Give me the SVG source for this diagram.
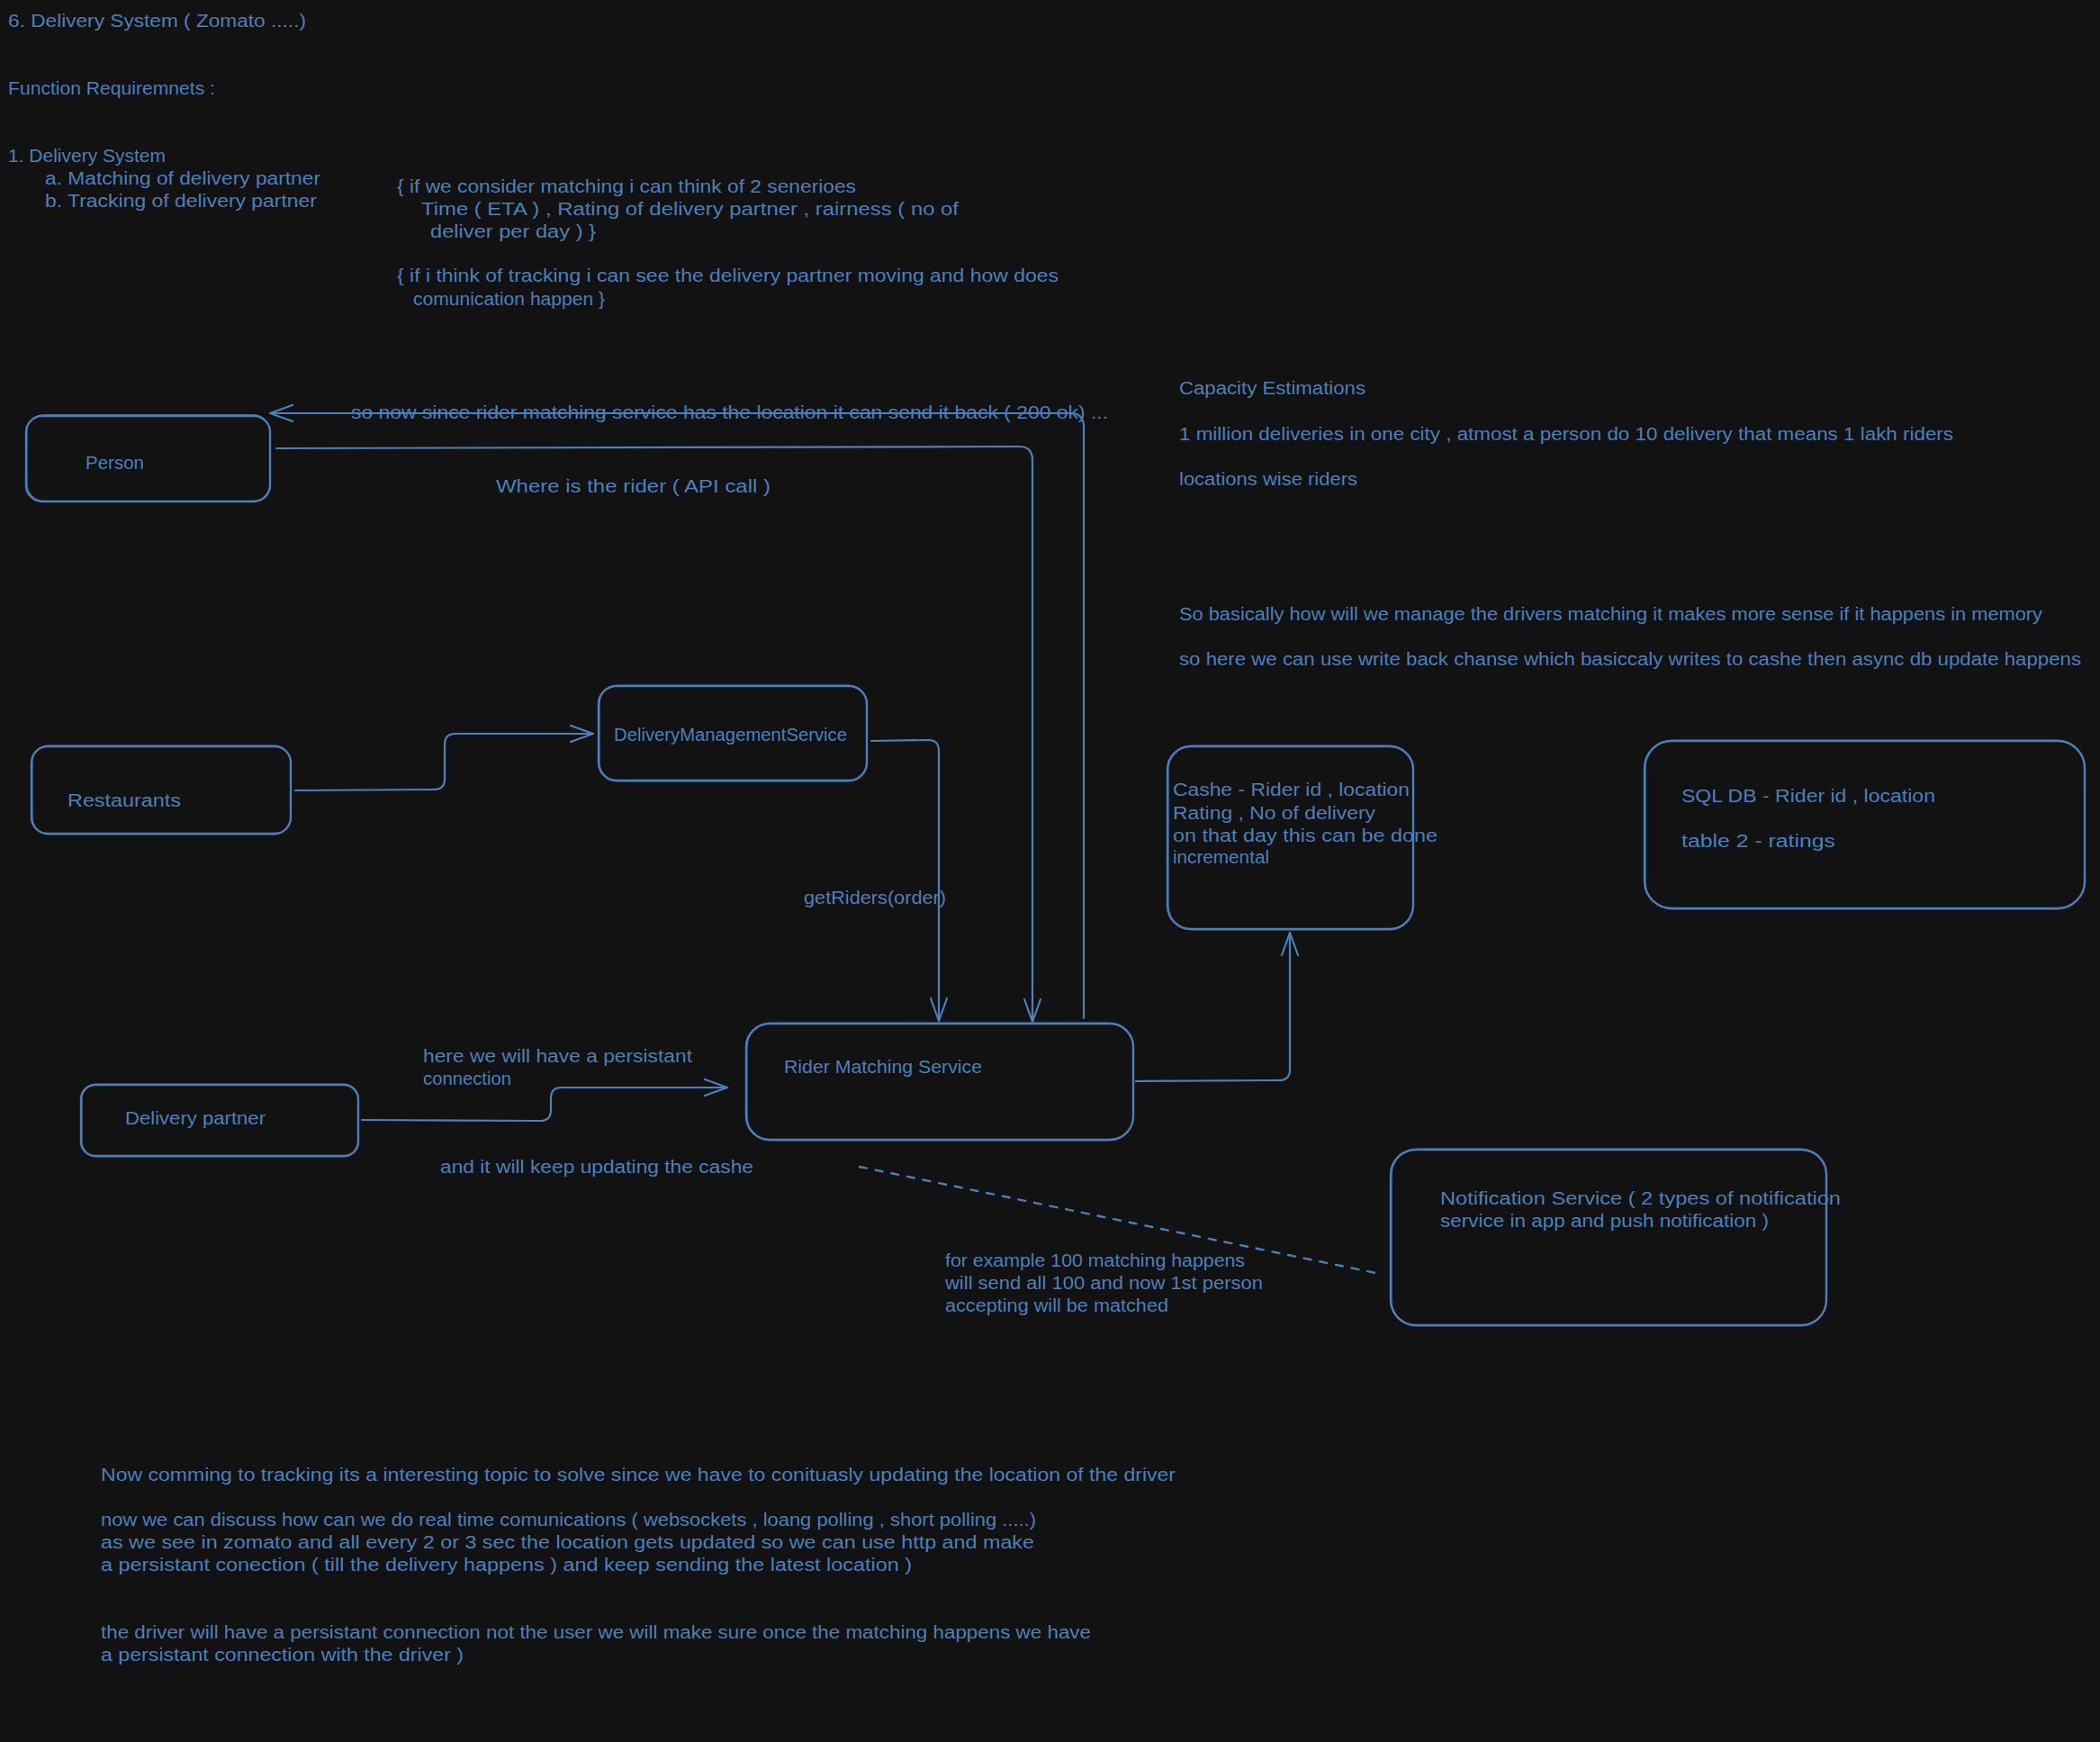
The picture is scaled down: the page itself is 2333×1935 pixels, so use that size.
<svg xmlns="http://www.w3.org/2000/svg" width="2333" height="1935" viewBox="0 0 2333 1935">
  <style>
    .t { fill: #4a80bc; font-family: "Liberation Sans", Arial, sans-serif; font-size: 20px; }
    .box { fill: none; stroke: #4a80bc; stroke-width: 2.4; }
    .box2 { fill: none; stroke: #4a80bc; stroke-width: 1.2; opacity: 0.75; }
    .wire { fill: none; stroke: #4a80bc; stroke-width: 2.2; stroke-linecap: round; stroke-linejoin: round; }
    .dash { fill: none; stroke: #4a80bc; stroke-width: 2.4; stroke-dasharray: 8 10; stroke-linecap: round; }
  </style>
  <defs>
    <marker id="arrow" viewBox="0 0 30 24" refX="28" refY="12" markerWidth="30" markerHeight="24" markerUnits="userSpaceOnUse" orient="auto">
      <path d="M 3 3 L 28 12 L 3 21" fill="none" stroke="#4a80bc" stroke-width="2.2" stroke-linecap="round" stroke-linejoin="round"/>
    </marker>
  </defs>
  <rect width="2333" height="1935" fill="#121212"/>

  <!-- notes: requirements -->
  <g id="notes-requirements">
    <text class="t" x="9" y="30" textLength="331" lengthAdjust="spacingAndGlyphs">6. Delivery System ( Zomato .....)</text>
    <text class="t" x="9" y="105" textLength="230" lengthAdjust="spacingAndGlyphs">Function Requiremnets :</text>
    <text class="t" x="9" y="180" textLength="175" lengthAdjust="spacingAndGlyphs">1. Delivery System</text>
    <text class="t" x="50" y="205" textLength="306" lengthAdjust="spacingAndGlyphs">a. Matching of delivery partner</text>
    <text class="t" x="50" y="230" textLength="302" lengthAdjust="spacingAndGlyphs">b. Tracking of delivery partner</text>
    <text class="t" x="441" y="214" textLength="510" lengthAdjust="spacingAndGlyphs">{ if we consider matching i can think of 2 senerioes</text>
    <text class="t" x="468" y="239" textLength="597" lengthAdjust="spacingAndGlyphs">Time ( ETA ) , Rating of delivery partner , rairness ( no of</text>
    <text class="t" x="478" y="264" textLength="184" lengthAdjust="spacingAndGlyphs">deliver per day ) }</text>
    <text class="t" x="441" y="313" textLength="735" lengthAdjust="spacingAndGlyphs">{ if i think of tracking i can see the delivery partner moving and how does</text>
    <text class="t" x="459" y="339" textLength="213" lengthAdjust="spacingAndGlyphs">comunication happen }</text>
  </g>

  <!-- notes: capacity -->
  <g id="notes-capacity">
    <text class="t" x="1310" y="438" textLength="207" lengthAdjust="spacingAndGlyphs">Capacity Estimations</text>
    <text class="t" x="1310" y="489" textLength="860" lengthAdjust="spacingAndGlyphs">1 million deliveries in one city , atmost a person do 10 delivery that means 1 lakh riders</text>
    <text class="t" x="1310" y="539" textLength="198" lengthAdjust="spacingAndGlyphs">locations wise riders</text>
    <text class="t" x="1310" y="689" textLength="959" lengthAdjust="spacingAndGlyphs">So basically how will we manage the drivers matching it makes more sense if it happens in memory</text>
    <text class="t" x="1310" y="739" textLength="1002" lengthAdjust="spacingAndGlyphs">so here we can use write back chanse which basiccaly writes to cashe then async db update happens</text>
  </g>

  <!-- notes: tracking -->
  <g id="notes-tracking">
    <text class="t" x="112" y="1645" textLength="1194" lengthAdjust="spacingAndGlyphs">Now comming to tracking its a interesting topic to solve since we have to conituasly updating the location of the driver</text>
    <text class="t" x="112" y="1695" textLength="1039" lengthAdjust="spacingAndGlyphs">now we can discuss how can we do real time comunications ( websockets , loang polling , short polling .....)</text>
    <text class="t" x="112" y="1720" textLength="1037" lengthAdjust="spacingAndGlyphs">as we see in zomato and all every 2 or 3 sec the location gets updated so we can use http and make</text>
    <text class="t" x="112" y="1745" textLength="901" lengthAdjust="spacingAndGlyphs">a persistant conection ( till the delivery happens )  and keep sending the latest location )</text>
    <text class="t" x="112" y="1820" textLength="1100" lengthAdjust="spacingAndGlyphs">the driver will have a persistant connection not the user we will make sure once the matching happens we have</text>
    <text class="t" x="112" y="1845" textLength="403" lengthAdjust="spacingAndGlyphs">a persistant connection with the driver )</text>
  </g>

  <!-- connectors -->
  <g id="connectors">
    <path class="wire" d="M 307 498 L 1132 496 Q 1147 496 1147 511 L 1147 1135" marker-end="url(#arrow)"/>
    <path class="wire" d="M 1204 1131 L 1204 474 Q 1204 459 1189 459 L 300 459" marker-end="url(#arrow)"/>
    <path class="wire" d="M 328 878 L 482 877 Q 494 877 494 865 L 494 827 Q 494 815 506 815 L 659 815" marker-end="url(#arrow)"/>
    <path class="wire" d="M 968 823 L 1031 822 Q 1043 822 1043 834 L 1043 1134" marker-end="url(#arrow)"/>
    <path class="wire" d="M 402 1244 L 600 1245 Q 612 1245 612 1233 L 612 1220 Q 612 1208 624 1208 L 808 1208" marker-end="url(#arrow)"/>
    <path class="wire" d="M 1262 1201 L 1421 1200 Q 1433 1200 1433 1188 L 1433 1036" marker-end="url(#arrow)"/>
    <path class="dash" d="M 955 1296 L 1528 1414"/>
    <text class="t" x="390" y="465" textLength="841" lengthAdjust="spacingAndGlyphs">so now since rider matching service has the location it can send it back ( 200 ok) ...</text>
    <text class="t" x="551" y="547" textLength="305" lengthAdjust="spacingAndGlyphs">Where is the rider ( API call )</text>
    <text class="t" x="893" y="1004" textLength="158" lengthAdjust="spacingAndGlyphs">getRiders(order)</text>
    <text class="t" x="470" y="1180" textLength="299" lengthAdjust="spacingAndGlyphs">here we will have a persistant</text>
    <text class="t" x="470" y="1205" textLength="98" lengthAdjust="spacingAndGlyphs">connection</text>
    <text class="t" x="489" y="1303" textLength="348" lengthAdjust="spacingAndGlyphs">and it will keep updating the cashe</text>
    <text class="t" x="1050" y="1407" textLength="333" lengthAdjust="spacingAndGlyphs">for example 100 matching happens</text>
    <text class="t" x="1050" y="1432" textLength="353" lengthAdjust="spacingAndGlyphs">will send all 100 and now 1st person</text>
    <text class="t" x="1050" y="1457" textLength="248" lengthAdjust="spacingAndGlyphs">accepting will be matched</text>
  </g>

  <!-- nodes -->
  <g id="person">
    <rect class="box" x="29" y="462" width="271" height="95" rx="18"/>
    <rect class="box2" x="30" y="460.5" width="270" height="96" rx="19"/>
    <text class="t" x="95" y="521" textLength="65" lengthAdjust="spacingAndGlyphs">Person</text>
  </g>
  <g id="restaurants">
    <rect class="box" x="35" y="829" width="288" height="97" rx="18"/>
    <rect class="box2" x="36" y="828" width="287" height="99" rx="19"/>
    <text class="t" x="75" y="896" textLength="126" lengthAdjust="spacingAndGlyphs">Restaurants</text>
  </g>
  <g id="delivery-management-service">
    <rect class="box" x="665" y="762" width="298" height="105" rx="20"/>
    <rect class="box2" x="666" y="761" width="297" height="107" rx="21"/>
    <text class="t" x="682" y="823" textLength="259" lengthAdjust="spacingAndGlyphs">DeliveryManagementService</text>
  </g>
  <g id="rider-matching-service">
    <rect class="box" x="829" y="1137" width="430" height="129" rx="26"/>
    <rect class="box2" x="830" y="1136" width="429" height="131" rx="27"/>
    <text class="t" x="871" y="1192" textLength="220" lengthAdjust="spacingAndGlyphs">Rider Matching Service</text>
  </g>
  <g id="delivery-partner">
    <rect class="box" x="90" y="1205" width="308" height="79" rx="16"/>
    <rect class="box2" x="91" y="1204" width="307" height="81" rx="17"/>
    <text class="t" x="139" y="1249" textLength="156" lengthAdjust="spacingAndGlyphs">Delivery partner</text>
  </g>
  <g id="cache">
    <rect class="box" x="1297" y="829" width="273" height="203" rx="26"/>
    <rect class="box2" x="1298" y="828" width="272" height="205" rx="27"/>
    <text class="t" x="1303" y="884" textLength="263" lengthAdjust="spacingAndGlyphs">Cashe - Rider id , location</text>
    <text class="t" x="1303" y="910" textLength="225" lengthAdjust="spacingAndGlyphs">Rating , No of delivery</text>
    <text class="t" x="1303" y="935" textLength="294" lengthAdjust="spacingAndGlyphs">on that day this can be done</text>
    <text class="t" x="1303" y="959" textLength="107" lengthAdjust="spacingAndGlyphs">incremental</text>
  </g>
  <g id="sql-db">
    <rect class="box" x="1827" y="823" width="489" height="186" rx="30"/>
    <rect class="box2" x="1828" y="822" width="488" height="188" rx="31"/>
    <text class="t" x="1868" y="891" textLength="282" lengthAdjust="spacingAndGlyphs">SQL DB - Rider id , location</text>
    <text class="t" x="1868" y="941" textLength="171" lengthAdjust="spacingAndGlyphs">table 2 - ratings</text>
  </g>
  <g id="notification-service">
    <rect class="box" x="1545" y="1277" width="484" height="195" rx="28"/>
    <rect class="box2" x="1546" y="1276" width="483" height="197" rx="29"/>
    <text class="t" x="1600" y="1338" textLength="445" lengthAdjust="spacingAndGlyphs">Notification Service ( 2 types of notification</text>
    <text class="t" x="1600" y="1363" textLength="365" lengthAdjust="spacingAndGlyphs">service in app and push notification )</text>
  </g>
</svg>
